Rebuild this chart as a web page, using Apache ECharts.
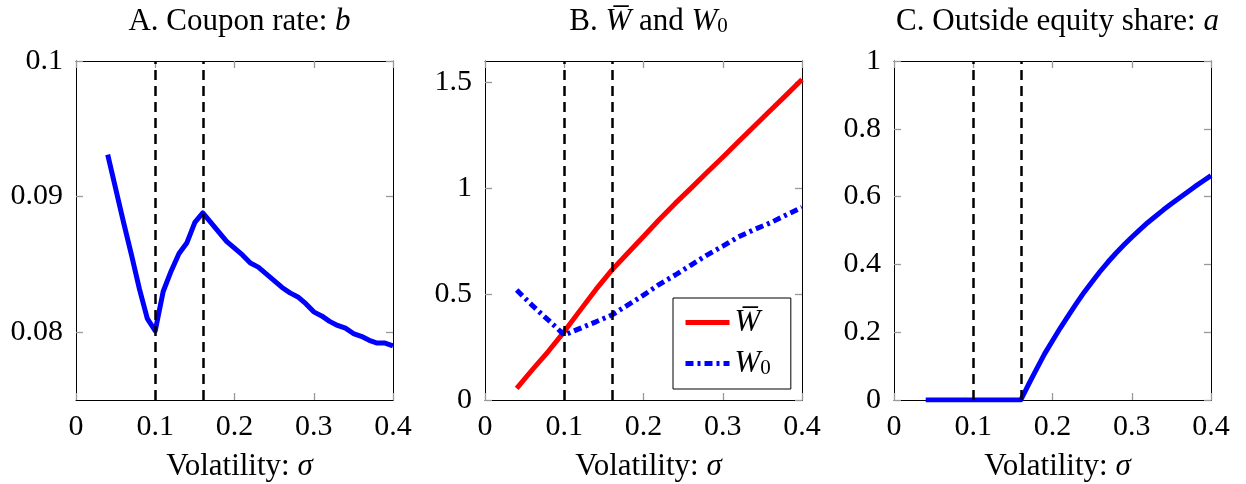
<!DOCTYPE html>
<html>
<head>
<meta charset="utf-8">
<script src="https://cdn.jsdelivr.net/npm/echarts@6/dist/echarts.min.js"></script>
<style>
    html, body { margin: 0; padding: 0; background: #fff; }
    #chart { width: 1246px; height: 484px; }
</style>
</head>
<body>
<div id="chart"></div>
<script>
    // panel A: coupon rate b against volatility
    const sigmaA = [0.04, 0.05, 0.06, 0.07, 0.08, 0.09, 0.10, 0.11, 0.12, 0.13, 0.14, 0.15, 0.16, 0.17, 0.18, 0.19, 0.20,
        0.21, 0.22, 0.23, 0.24, 0.25, 0.26, 0.27, 0.28, 0.29, 0.30, 0.31, 0.32, 0.33, 0.34, 0.35, 0.36, 0.37, 0.38, 0.39, 0.40];
    const couponRate = [0.0931, 0.0906, 0.0881, 0.0857, 0.0832, 0.0810, 0.0801, 0.0830, 0.0845, 0.0858, 0.0866, 0.0881, 0.0888,
        0.0881, 0.0874, 0.0867, 0.0862, 0.0857, 0.0851, 0.0848, 0.0843, 0.0838, 0.0833, 0.0829, 0.0826, 0.0821, 0.0815,
        0.0812, 0.0808, 0.0805, 0.0803, 0.0799, 0.0797, 0.0794, 0.0792, 0.0792, 0.0790];

    // panel B: W bar and W0
    const sigmaB = [0.04, 0.06, 0.08, 0.10, 0.12, 0.14, 0.16, 0.18, 0.20, 0.22, 0.24, 0.26, 0.28, 0.30, 0.32, 0.34, 0.36, 0.38, 0.40];
    const wBar = [0.055, 0.144, 0.230, 0.323, 0.423, 0.522, 0.613, 0.693, 0.772, 0.852, 0.928, 1.000, 1.074, 1.146, 1.220, 1.293, 1.366, 1.439, 1.513];
    const w0 = [0.519, 0.445, 0.377, 0.307, 0.338, 0.369, 0.401, 0.448, 0.495, 0.546, 0.590, 0.637, 0.684, 0.726, 0.770, 0.805, 0.836, 0.873, 0.909];

    // panel C: outside equity share a
    const sigmaC = [0.04, 0.16, 0.17, 0.18, 0.19, 0.20, 0.21, 0.22, 0.23, 0.24, 0.25, 0.26, 0.27, 0.28, 0.29, 0.30,
        0.31, 0.32, 0.33, 0.34, 0.35, 0.36, 0.37, 0.38, 0.39, 0.40];
    const equityShare = [0, 0, 0.047, 0.092, 0.136, 0.175, 0.213, 0.249, 0.284, 0.318, 0.349, 0.379, 0.407, 0.433, 0.457, 0.480,
        0.502, 0.523, 0.542, 0.561, 0.579, 0.596, 0.613, 0.630, 0.646, 0.662];

    // dashed vertical lines
    const cutoffs = [0.10, 0.16];

    // tick labels
    const xTicks = [0, 0.1, 0.2, 0.3, 0.4];
    const yTicksA = [0.08, 0.09, 0.1];
    const yTicksB = [0, 0.5, 1, 1.5];
    const yTicksC = [0, 0.2, 0.4, 0.6, 0.8, 1];

    const FONT = 'Liberation Serif';
    const rich = {
        n: { fontFamily: FONT, fontSize: 31, fontWeight: 'normal', color: '#000' },
        i: { fontFamily: FONT, fontSize: 31, fontWeight: 'normal', fontStyle: 'italic', color: '#000' },
        s: { fontFamily: FONT, fontSize: 21, fontWeight: 'normal', color: '#000', verticalAlign: 'bottom', lineHeight: 16 }
    };

    const grids = [
        { left: 76, top: 61, width: 317, height: 339, outerBoundsMode: 'none' },
        { left: 485, top: 61, width: 317, height: 339, outerBoundsMode: 'none' },
        { left: 894, top: 61, width: 317, height: 339, outerBoundsMode: 'none' }
    ];
    const centers = [234.5, 643.5, 1052.5];
    const yRanges = [[0.075, 0.1, yTicksA], [0, 1.6, yTicksB], [0, 1, yTicksC]];

    const tick = { show: true, inside: true, length: 7, lineStyle: { color: '#999', width: 1.3 } };
    const frame = { show: true, onZero: false, lineStyle: { color: '#000', width: 1 } };

    const xAxes = [];
    const yAxes = [];
    grids.forEach((g, i) => {
        xAxes.push({
            type: 'value', gridIndex: i, min: 0, max: 0.4, position: 'bottom',
            axisLine: frame, splitLine: { show: false },
            axisTick: Object.assign({ customValues: xTicks }, tick),
            axisLabel: { customValues: xTicks, fontFamily: FONT, fontSize: 30, color: '#000', margin: 12 }
        });
        xAxes.push({
            type: 'value', gridIndex: i, min: 0, max: 0.4, position: 'top',
            axisLine: frame, splitLine: { show: false },
            axisTick: Object.assign({ customValues: xTicks }, tick),
            axisLabel: { show: false }
        });
        const [lo, hi, ticks] = yRanges[i];
        yAxes.push({
            type: 'value', gridIndex: i, min: lo, max: hi, position: 'left',
            axisLine: frame, splitLine: { show: false },
            axisTick: Object.assign({ customValues: ticks }, tick),
            axisLabel: { customValues: ticks, fontFamily: FONT, fontSize: 30, color: '#000', margin: 13 }
        });
        yAxes.push({
            type: 'value', gridIndex: i, min: lo, max: hi, position: 'right',
            axisLine: frame, splitLine: { show: false },
            axisTick: Object.assign({ customValues: ticks }, tick),
            axisLabel: { show: false }
        });
    });

    const titles = [
        '{n|A. Coupon rate: }{i|b}',
        '{n|B. }{i|W\u0305}{n| and }{i|W}{s|0}',
        '{n|C. Outside equity share: }{i|a}'
    ].map((t, i) => ({ text: t, left: centers[i], top: 1, textAlign: 'center', textStyle: { fontWeight: 'normal', rich: rich } }));
    // x axis names, drawn as titles so the serif font holds
    centers.forEach(c => titles.push({
        text: '{n|Volatility: }{i|σ}', left: c, top: 446, textAlign: 'center',
        textStyle: { fontWeight: 'normal', rich: rich }
    }));

    const dashed = {
        silent: true,
        symbol: ['none', 'none'],
        label: { show: false },
        lineStyle: { color: '#000', type: [10, 6], width: 2.5 },
        data: cutoffs.map(v => ({ xAxis: v }))
    };

    const zip = (xs, ys) => xs.map((x, k) => [x, ys[k]]);

    const chart = echarts.init(document.getElementById('chart'), null, { renderer: 'canvas' });
    chart.setOption({
        animation: false,
        backgroundColor: '#fff',
        textStyle: { fontFamily: FONT, color: '#000' },
        title: titles,
        legend: {
            left: 673, top: 298, orient: 'vertical',
            data: ['Wbar', 'W0'],
            backgroundColor: '#fff', borderColor: '#000', borderWidth: 1, borderRadius: 0,
            padding: [9, 20, 10, 10], itemGap: 10, itemWidth: 44, itemHeight: 18,
            itemStyle: { opacity: 0 },
            lineStyle: { width: 5 },
            formatter: name => name === 'Wbar' ? '{i|W\u0305}' : '{i|W}{s|0}',
            textStyle: { rich: rich }
        },
        grid: grids,
        xAxis: xAxes,
        yAxis: yAxes,
        series: [
            {
                name: 'b', type: 'line', xAxisIndex: 0, yAxisIndex: 0,
                data: zip(sigmaA, couponRate), symbol: 'none',
                lineStyle: { color: '#0000ff', width: 5, join: 'round' },
                markLine: dashed
            },
            {
                name: 'Wbar', type: 'line', xAxisIndex: 2, yAxisIndex: 2,
                data: zip(sigmaB, wBar), symbol: 'none',
                itemStyle: { color: '#ff0000' },
                lineStyle: { color: '#ff0000', width: 5, join: 'round' },
                markLine: dashed
            },
            {
                name: 'W0', type: 'line', xAxisIndex: 2, yAxisIndex: 2,
                data: zip(sigmaB, w0), symbol: 'none',
                itemStyle: { color: '#0000ff' },
                lineStyle: { color: '#0000ff', width: 5, type: [8, 4, 3, 4], cap: 'butt' }
            },
            {
                name: 'a', type: 'line', xAxisIndex: 4, yAxisIndex: 4,
                data: zip(sigmaC, equityShare), symbol: 'none',
                lineStyle: { color: '#0000ff', width: 5, join: 'round' },
                markLine: dashed
            }
        ]
    });
</script>
</body>
</html>
